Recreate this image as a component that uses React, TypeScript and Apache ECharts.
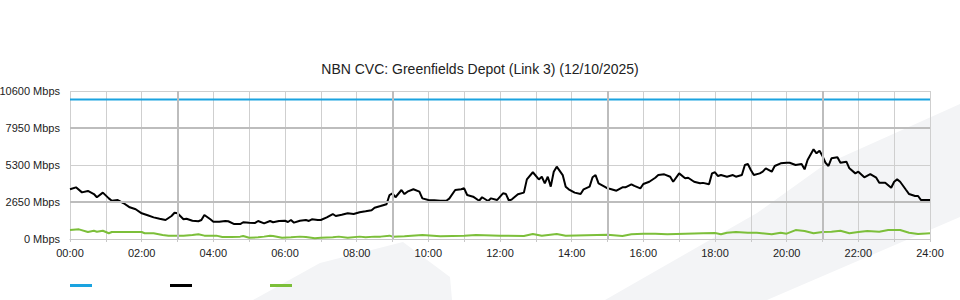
import React, { useEffect, useRef } from "react";
import * as echarts from "echarts";

const TITLE = "NBN CVC: Greenfields Depot (Link 3) (12/10/2025)";

// x positions in minutes since midnight
const hourTicks = ["00:00","02:00","04:00","06:00","08:00","10:00","12:00","14:00","16:00","18:00","20:00","22:00","24:00"];
const yTicks = [0, 2650, 5300, 7950, 10600];

const capacityMinutes = [0, 1440];
const capacityMbps = [10000, 10000];

const downMinutes = [
  0,10,20,30,40,45,55,65,70,80,90,100,110,120,130,140,150,160,170,175,180,190,195,205,215,220,225,235,240,250,
  260,265,275,285,290,300,310,315,325,335,340,350,360,365,370,375,385,395,400,405,415,420,430,440,445,455,465,475,485,495,
  505,510,520,530,535,540,545,555,560,565,575,585,590,600,610,620,630,635,645,655,660,665,675,685,690,700,705,715,725,730,
  735,740,750,760,765,775,785,790,795,800,805,810,815,825,830,835,845,855,860,870,875,880,885,895,900,905,915,925,930,940,
  945,955,960,970,980,985,995,1005,1010,1020,1030,1035,1045,1055,1060,1070,1075,1080,1085,1090,1100,1110,1115,1125,1130,1135,1140,1145,1155,1160,
  1165,1175,1180,1190,1200,1205,1215,1225,1230,1235,1245,1250,1255,1260,1265,1270,1275,1285,1290,1300,1305,1315,1320,1330,1340,1350,1355,1365,1375,1380,
  1385,1390,1400,1405,1415,1420,1425,1440
];
const downMbps = [
  3560,3700,3340,3440,3220,2990,3320,2910,2740,2790,2560,2270,2130,1840,1700,1550,1450,1360,1650,1880,1840,1410,1450,1310,1270,1360,1720,1410,1240,1240,
  1290,1270,1070,1070,1200,1170,1150,1290,1120,1290,1200,1290,1310,1220,1360,1170,1310,1360,1290,1410,1360,1360,1550,1790,1650,1740,1840,1790,1910,1980,
  2060,2240,2360,2490,3150,3270,2990,3510,3220,3390,3560,3390,2910,2790,2770,2740,2740,2890,3510,3560,3630,3150,3030,2740,2990,2720,2910,2790,3270,3220,
  2740,2840,3200,3320,4270,4780,4270,4460,3990,4460,3750,4820,5180,4580,3750,3560,3320,3220,3560,3750,4420,4580,3990,3750,3630,3580,3460,3700,3700,3920,
  3800,3630,3940,4100,4390,4580,4630,4460,4100,4700,4350,4390,4100,3990,4020,3920,4700,4780,4510,4580,4460,4580,4460,4580,5300,5370,4940,4580,4700,4820,
  5060,4820,5230,5420,5460,5460,5300,5370,4990,5660,6420,6140,6320,5940,5460,5230,5780,5850,5460,5540,5060,4700,4820,4420,4650,4390,4030,4030,3670,4100,
  4270,4100,3510,3220,3080,3080,2790,2790
];

const upMinutes = [
  0,15,30,40,45,55,65,70,120,125,140,155,165,190,205,215,225,245,255,270,285,290,300,315,325,335,340,355,370,385,
  395,410,420,440,450,465,485,495,510,520,535,540,560,590,620,660,680,720,760,775,790,815,830,900,925,940,960,980,1000,1060,
  1080,1090,1100,1115,1135,1150,1175,1190,1200,1215,1230,1245,1260,1275,1290,1305,1320,1335,1355,1370,1390,1405,1420,1440
];
const upMbps = [
  640,690,500,590,520,590,410,500,500,410,410,290,240,240,290,340,240,240,140,140,170,220,90,120,170,240,220,90,120,170,
  140,50,90,120,170,90,170,120,170,170,240,170,200,290,200,240,290,240,220,360,240,360,240,300,220,340,380,380,340,410,
  430,340,450,500,450,450,340,450,380,640,570,410,500,520,590,410,500,570,520,640,640,450,360,410
];

const pairs = (xs: number[], ys: number[]) => xs.map((x, i) => [x, ys[i]]);

export default function App() {
  const ref = useRef<HTMLDivElement>(null);
  useEffect(() => {
    if (!ref.current) return;
    const chart = echarts.init(ref.current, undefined, { renderer: "svg" });
    const font = "'Liberation Sans', Arial, sans-serif";
    chart.setOption({
      animation: false,
      textStyle: { fontFamily: font },
      title: {
        text: TITLE,
        left: "center",
        top: 57,
        textStyle: { fontSize: 14, fontWeight: "normal", color: "#222", fontFamily: font },
      },
      graphic: [
        {
          type: "polygon",
          z: -10,
          silent: true,
          shape: { points: [[253, 300], [320, 263], [403, 242], [450, 277], [452, 300]] },
          style: { fill: "#f3f4f6" },
        },
        {
          type: "polygon",
          z: -10,
          silent: true,
          shape: { points: [[605, 300], [757, 213], [824, 165], [960, 104], [960, 217], [767, 300]] },
          style: { fill: "#f3f4f6" },
        },
      ],
      legend: {
        left: 65,
        top: 279,
        itemWidth: 22,
        itemHeight: 3,
        itemGap: 78,
        icon: "rect",
        formatter: () => "",
        selectedMode: false,
        data: ["Capacity", "Download", "Upload"],
      },
      grid: { left: 70, right: 30, top: 91, bottom: 61, containLabel: false, outerBoundsMode: "none" },
      xAxis: {
        type: "value",
        min: 0,
        max: 1440,
        interval: 60,
        axisLine: { show: true, lineStyle: { color: "#c8c8c8" } },
        axisTick: { show: true, length: 3, lineStyle: { color: "#c8c8c8" } },
        axisLabel: {
          fontSize: 11,
          color: "#222",
          margin: 8,
          formatter: (v: number) => (v % 120 === 0 ? hourTicks[v / 120] : ""),
        },
        splitLine: { show: true, lineStyle: { color: "#cfcfcf", width: 1 } },
      },
      yAxis: {
        type: "value",
        min: yTicks[0],
        max: yTicks[yTicks.length - 1],
        interval: yTicks[1] - yTicks[0],
        axisLine: { show: false },
        axisTick: { show: false },
        axisLabel: {
          fontSize: 11,
          color: "#222",
          margin: 10,
          padding: [0, 0, 4, 0],
          formatter: (v: number) => `${v} Mbps`,
        },
        splitLine: { show: true, lineStyle: { color: "#cfcfcf", width: 1 } },
      },
      series: [
        {
          name: "Major grid",
          type: "line",
          data: [],
          z: 1,
          silent: true,
          markLine: {
            silent: true,
            symbol: "none",
            label: { show: false },
            lineStyle: { color: "#bdbdbd", width: 2, type: "solid" },
            data: [
              { xAxis: 180 }, { xAxis: 540 }, { xAxis: 900 }, { xAxis: 1260 },
              { yAxis: yTicks[1] }, { yAxis: yTicks[3] },
            ],
          },
        },
        {
          name: "Capacity",
          type: "line",
          data: pairs(capacityMinutes, capacityMbps),
          showSymbol: false,
          lineStyle: { color: "#1aa3e0", width: 2 },
          itemStyle: { color: "#1aa3e0" },
          z: 3,
        },
        {
          name: "Download",
          type: "line",
          data: pairs(downMinutes, downMbps),
          showSymbol: false,
          lineStyle: { color: "#000000", width: 2 },
          itemStyle: { color: "#000000" },
          z: 4,
        },
        {
          name: "Upload",
          type: "line",
          data: pairs(upMinutes, upMbps),
          showSymbol: false,
          lineStyle: { color: "#7cbf3a", width: 2 },
          itemStyle: { color: "#7cbf3a" },
          z: 3,
        },
      ],
    });
    return () => chart.dispose();
  }, []);
  return <div ref={ref} style={{ width: 960, height: 300, position: "absolute", left: 0, top: 0 }} />;
}
